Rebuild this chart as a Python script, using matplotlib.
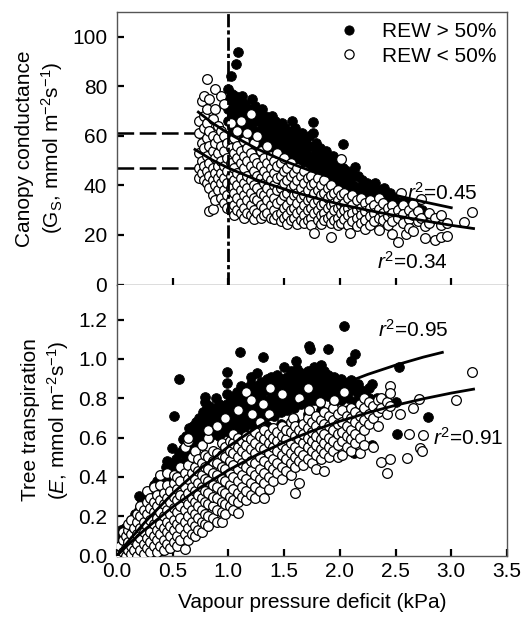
import matplotlib
matplotlib.use('Agg')
import matplotlib.pyplot as plt
from matplotlib.lines import Line2D

plt.rcParams['font.family'] = ['Liberation Sans', 'DejaVu Sans']
plt.rcParams['mathtext.fontset'] = 'custom'
plt.rcParams['mathtext.rm'] = 'Liberation Sans'
plt.rcParams['mathtext.it'] = 'Liberation Sans:italic'
plt.rcParams['lines.scale_dashes'] = False

# ---- canopy conductance (top panel), columns of (VPD, [Gs values]) ----
gs_wet = [
    (1.09, [94]), (1.07, [89]), (1.02, [84]),
    (1.00, [79, 75, 71, 66, 60, 56]),
    (1.03, [77, 73, 68, 63, 58]),
    (1.06, [76, 70, 65, 61, 55]),
    (1.09, [74, 71, 67, 62, 57, 53]),
    (1.12, [76, 69, 64, 59, 55]),
    (1.15, [73, 70, 66, 61, 56, 52]),
    (1.18, [71, 67, 63, 58, 54]),
    (1.21, [75, 69, 65, 60, 55, 51]),
    (1.24, [72, 67, 62, 57, 53]),
    (1.27, [70, 66, 61, 56, 52, 49]),
    (1.30, [71, 67, 63, 58, 54, 50]),
    (1.33, [68, 64, 60, 55, 51]),
    (1.36, [67, 62, 58, 53, 49]),
    (1.39, [68, 64, 60, 56, 51, 47]),
    (1.42, [66, 62, 58, 54, 50]),
    (1.45, [64, 60, 56, 52, 48]),
    (1.48, [65, 61, 57, 53, 49, 46]),
    (1.51, [63, 59, 55, 51, 47]),
    (1.54, [61, 58, 54, 50, 46]),
    (1.57, [66, 62, 57, 53, 49, 45]),
    (1.60, [63, 59, 55, 51, 47]),
    (1.63, [60, 56, 52, 48, 44]),
    (1.66, [61, 57, 53, 49, 45]),
    (1.69, [58, 55, 51, 47, 43]),
    (1.72, [60, 56, 52, 48, 44]),
    (1.76, [65.5, 61, 55.5, 50, 46, 42]),
    (1.79, [57, 53, 49, 45, 41]),
    (1.82, [55, 51, 47, 43, 40]),
    (1.85, [53, 50, 46, 42, 39]),
    (1.88, [54, 49, 45, 41, 38]),
    (1.91, [51, 48, 44, 40, 37]),
    (1.94, [52, 47, 43, 39, 36]),
    (1.97, [49, 46, 42, 38, 35, 28.7]),
    (2.00, [48, 44, 40, 37, 34]),
    (2.03, [56.7, 47, 43, 39, 36]),
    (2.06, [46, 42, 38, 35]),
    (2.09, [45, 41, 37, 34]),
    (2.12, [44, 40, 36, 33]),
    (2.14, [47.5]),
    (2.16, [44, 39, 36, 33]),
    (2.20, [42, 38, 35]),
    (2.24, [41, 37, 34, 31]),
    (2.28, [39, 36, 33]),
    (2.32, [41, 37, 34, 31]),
    (2.36, [38, 35, 32]),
    (2.40, [39, 36, 33]),
    (2.45, [37, 34, 31]),
    (2.50, [35, 32]),
    (2.56, [27, 34]),
    (2.62, [33, 30]),
    (2.68, [32]),
    (2.74, [30]),
    (2.79, [26.8]),
    (2.91, [25.6]),
]

gs_dry = [
    (0.74, [66, 61, 53, 47, 43]),
    (0.76, [74, 57, 50, 45]),
    (0.78, [76, 68, 63, 55, 48, 42]),
    (0.81, [83, 71, 65, 59, 52, 46, 41]),
    (0.83, [75, 62, 56, 49, 44, 39, 29.6]),
    (0.86, [67, 60, 54, 47, 42, 36, 30.5]),
    (0.88, [79, 71, 57, 51, 45, 40, 34]),
    (0.91, [64, 59, 53, 48, 43, 38]),
    (0.93, [76, 62, 56, 50, 45, 41, 35]),
    (0.96, [73, 60, 54, 48, 43, 38, 33]),
    (0.99, [57, 51, 46, 41, 36, 31]),
    (1.02, [65, 55, 49, 44, 39, 34, 30]),
    (1.05, [59, 53, 47, 42, 37, 32, 28]),
    (1.08, [62, 56, 51, 45, 40, 35, 30]),
    (1.11, [66, 54, 49, 43, 38, 33, 29]),
    (1.14, [58, 52, 47, 41, 36, 31, 27]),
    (1.17, [61, 55, 50, 44, 39, 34, 29]),
    (1.20, [69, 53, 48, 42, 37, 32, 28]),
    (1.23, [57, 51, 46, 40, 35, 30, 26.5]),
    (1.26, [60, 49, 44, 39, 34, 29]),
    (1.29, [54, 48, 43, 37, 32, 27]),
    (1.32, [51, 46, 41, 36, 31, 28]),
    (1.35, [56, 49, 44, 39, 34, 29]),
    (1.38, [52, 47, 42, 37, 32, 27]),
    (1.41, [50, 45, 40, 35, 30, 26.5]),
    (1.44, [53, 48, 43, 38, 33, 28]),
    (1.47, [49, 44, 39, 34, 29, 25.5]),
    (1.50, [51, 46, 41, 36, 31, 27]),
    (1.53, [47, 42, 37, 32, 28, 24.5]),
    (1.56, [49, 44, 39, 34, 30, 26]),
    (1.59, [45, 40, 36, 31, 27]),
    (1.62, [47, 42, 37, 33, 29, 24.5]),
    (1.65, [44, 39, 35, 30, 26]),
    (1.68, [46, 41, 36, 32, 28, 25]),
    (1.71, [43, 38, 34, 30, 26]),
    (1.74, [44, 40, 35, 31, 27, 24]),
    (1.77, [41, 37, 33, 29, 20.6]),
    (1.80, [43, 38, 34, 30, 26]),
    (1.83, [40, 36, 32, 28, 24.5]),
    (1.86, [42, 37, 33, 29, 26]),
    (1.89, [39, 35, 31, 27]),
    (1.92, [40, 36, 32, 28, 25, 19.1]),
    (1.95, [37, 33, 30, 26]),
    (1.98, [38, 34, 31, 27, 24]),
    (2.01, [50.5, 36, 32, 29, 25]),
    (2.04, [37, 33, 30, 26.5]),
    (2.07, [35, 31, 28, 24]),
    (2.09, [20.6]),
    (2.11, [36, 32, 29, 25.5]),
    (2.15, [34, 30, 27, 23.5]),
    (2.19, [35, 31, 28, 25]),
    (2.23, [33, 29.5, 26, 22.5]),
    (2.27, [34, 31, 27.5, 24]),
    (2.31, [32, 29, 25.5]),
    (2.35, [35, 30.5, 27, 22.2]),
    (2.39, [33, 29, 26]),
    (2.43, [31, 27.5, 24]),
    (2.47, [32, 29, 25.5, 20.5]),
    (2.52, [30, 27, 17.2]),
    (2.55, [36.8]),
    (2.57, [32, 28.5, 25]),
    (2.59, [20.3]),
    (2.62, [30, 26.5, 23]),
    (2.66, [32.5, 28, 21.5]),
    (2.70, [29.5, 25.5]),
    (2.73, [34.5, 27]),
    (2.76, [18.8, 23.5]),
    (2.80, [29, 25]),
    (2.85, [27, 18]),
    (2.91, [28, 24, 19.3]),
    (2.96, [19.7, 25]),
    (3.11, [25.1]),
    (3.19, [29.2]),
]

# fitted curves, read at several VPD values
fit_wet_vpd = [0.73, 0.85, 1.0, 1.25, 1.5, 1.75, 2.0, 2.25, 2.5, 2.75, 3.0]
fit_wet_gs = [69.6, 65.4, 61.0, 54.9, 49.9, 45.7, 42.1, 38.9, 36.0, 33.4, 31.0]
fit_dry_vpd = [0.70, 0.85, 1.0, 1.25, 1.5, 1.75, 2.0, 2.25, 2.5, 2.75, 3.0, 3.2]
fit_dry_gs = [54.5, 50.4, 47.0, 42.3, 38.5, 35.3, 32.4, 30.0, 27.8, 25.8, 23.9, 22.6]
gs_at_1kpa = [61, 47]

# ---- tree transpiration (bottom panel) ----
e_wet = [
    (0.02, [0.03, 0.08]), (0.04, [0.10, 0.13]), (0.07, [0.05, 0.11, 0.14]),
    (0.10, [0.08, 0.13]), (0.13, [0.14, 0.18]), (0.16, [0.16, 0.21]),
    (0.20, [0.302, 0.18, 0.23]), (0.22, [0.29]), (0.24, [0.21, 0.27]),
    (0.27, [0.24, 0.30]), (0.30, [0.27, 0.33]), (0.33, [0.30, 0.36]),
    (0.36, [0.33, 0.38]), (0.38, [0.0]), (0.40, [0.36, 0.41]),
    (0.42, [0.05]), (0.44, [0.39, 0.45]), (0.45, [0.48]),
    (0.47, [0.42, 0.47]), (0.49, [0.545, 0.30]), (0.50, [0.39, 0.46]),
    (0.51, [0.709]), (0.53, [0.42, 0.49, 0.12]), (0.56, [0.896, 0.45, 0.52]),
    (0.59, [0.47, 0.54, 0.59]), (0.62, [0.50, 0.56, 0.61]),
    (0.65, [0.65, 0.52, 0.58]), (0.68, [0.55, 0.61, 0.66]),
    (0.71, [0.57, 0.63, 0.68]), (0.74, [0.59, 0.65, 0.70]),
    (0.77, [0.61, 0.67, 0.73]), (0.79, [0.807, 0.78]),
    (0.80, [0.63, 0.69, 0.74]), (0.83, [0.60, 0.65, 0.71, 0.76]),
    (0.86, [0.62, 0.68, 0.73]), (0.89, [0.64, 0.70, 0.75, 0.80]),
    (0.92, [0.61, 0.66, 0.72, 0.77]), (0.95, [0.63, 0.69, 0.74]),
    (0.99, [0.935, 0.879, 0.65, 0.71, 0.77, 0.82]),
    (1.02, [0.57, 0.62, 0.68, 0.73, 0.79]), (1.05, [0.64, 0.70, 0.75, 0.81]),
    (1.08, [0.66, 0.72, 0.77, 0.83]), (1.10, [1.036]),
    (1.11, [0.58, 0.63, 0.69, 0.74, 0.80, 0.86]),
    (1.14, [0.65, 0.71, 0.77, 0.82]),
    (1.17, [0.67, 0.73, 0.79, 0.85]), (1.20, [0.69, 0.75, 0.81, 0.87, 0.91]),
    (1.23, [0.61, 0.66, 0.72, 0.78, 0.84]),
    (1.26, [0.68, 0.74, 0.80, 0.86, 0.93]),
    (1.29, [0.70, 0.76, 0.82, 0.88]), (1.31, [1.011]),
    (1.32, [0.67, 0.73, 0.79, 0.85]),
    (1.35, [0.66, 0.72, 0.78, 0.84, 0.90]),
    (1.38, [0.74, 0.80, 0.86, 0.91]), (1.41, [0.71, 0.77, 0.83, 0.89]),
    (1.44, [0.75, 0.81, 0.87, 0.92]),
    (1.47, [0.67, 0.73, 0.79, 0.85, 0.90]),
    (1.50, [0.96, 0.76, 0.82, 0.88]), (1.53, [0.74, 0.80, 0.86, 0.91]),
    (1.56, [0.78, 0.84, 0.89, 0.94]),
    (1.59, [0.69, 0.75, 0.81, 0.87, 0.92]),
    (1.61, [0.99]), (1.62, [0.79, 0.85, 0.90, 0.95]),
    (1.65, [0.77, 0.83, 0.88, 0.93]), (1.68, [0.80, 0.86, 0.91]),
    (1.71, [0.72, 0.78, 0.84, 0.89, 0.94]), (1.72, [1.065]), (1.73, [1.05]),
    (1.74, [0.81, 0.87, 0.92]), (1.77, [0.79, 0.85, 0.90, 0.96]),
    (1.80, [0.82, 0.88, 0.93]), (1.83, [0.74, 0.80, 0.86, 0.91, 0.97]),
    (1.86, [0.83, 0.89, 0.94]), (1.89, [1.048, 0.81, 0.87, 0.92]),
    (1.92, [0.84, 0.90]), (1.95, [0.72, 0.78, 0.85, 0.91]),
    (1.98, [0.82, 0.88]),
    (2.01, [0.79, 0.85, 0.90]), (2.04, [1.167, 0.83, 0.88]),
    (2.07, [0.64, 0.74, 0.80, 0.86]), (2.10, [0.99, 0.84, 0.89]),
    (2.13, [0.52, 0.78, 0.86]), (2.14, [1.024]), (2.16, [0.65, 0.82, 0.87]),
    (2.19, [0.73, 0.79, 0.84]), (2.22, [0.76, 0.82]), (2.26, [0.80, 0.85]),
    (2.29, [0.871, 0.56, 0.77]), (2.33, [0.80]), (2.37, [0.76]),
    (2.41, [0.78]), (2.50, [0.78]), (2.51, [0.618]), (2.53, [0.96]),
    (2.79, [0.706]),
]

e_dry = [
    (0.00, [0.0]), (0.03, [0.01, 0.05]), (0.05, [0.02, 0.08, 0.12]),
    (0.08, [0.0, 0.04, 0.10]), (0.10, [0.03, 0.07, 0.13, 0.16]),
    (0.13, [0.01, 0.05, 0.11, 0.18]), (0.15, [0.03, 0.08, 0.14]),
    (0.18, [0.0, 0.06, 0.11, 0.17, 0.21]),
    (0.21, [0.03, 0.09, 0.14, 0.20, 0.25]),
    (0.24, [0.01, 0.06, 0.12, 0.17, 0.23]),
    (0.27, [0.04, 0.09, 0.15, 0.21, 0.27, 0.33]),
    (0.30, [0.02, 0.07, 0.12, 0.18, 0.24, 0.29]),
    (0.33, [0.05, 0.10, 0.16, 0.22, 0.27, 0.35]),
    (0.36, [0.02, 0.08, 0.13, 0.19, 0.25, 0.31]),
    (0.39, [0.05, 0.11, 0.16, 0.22, 0.28, 0.36, 0.41]),
    (0.42, [0.03, 0.08, 0.14, 0.20, 0.26, 0.32]),
    (0.45, [0.06, 0.12, 0.17, 0.23, 0.29, 0.36, 0.42]),
    (0.48, [0.04, 0.10, 0.15, 0.21, 0.27, 0.33]),
    (0.51, [0.07, 0.13, 0.18, 0.24, 0.30, 0.37, 0.41]),
    (0.54, [0.05, 0.10, 0.16, 0.22, 0.28, 0.34, 0.40]),
    (0.57, [0.08, 0.14, 0.19, 0.25, 0.31, 0.38, 0.45]),
    (0.61, [0.035, 0.11, 0.17, 0.23, 0.29, 0.35, 0.42, 0.55]),
    (0.64, [0.08, 0.14, 0.20, 0.26, 0.32, 0.39, 0.46, 0.58, 0.60]),
    (0.67, [0.11, 0.17, 0.23, 0.29, 0.35, 0.42, 0.50]),
    (0.70, [0.10, 0.15, 0.21, 0.27, 0.33, 0.39, 0.45, 0.53]),
    (0.73, [0.13, 0.19, 0.25, 0.31, 0.37, 0.43, 0.49]),
    (0.76, [0.12, 0.17, 0.23, 0.29, 0.35, 0.41, 0.47, 0.56]),
    (0.79, [0.16, 0.21, 0.27, 0.33, 0.39, 0.45, 0.51]),
    (0.82, [0.15, 0.20, 0.26, 0.32, 0.38, 0.44, 0.50, 0.60, 0.64]),
    (0.86, [0.19, 0.25, 0.30, 0.36, 0.42, 0.48, 0.53]),
    (0.90, [0.17, 0.23, 0.29, 0.35, 0.41, 0.47, 0.52, 0.66]),
    (0.94, [0.172, 0.22, 0.27, 0.33, 0.39, 0.45, 0.51, 0.57]),
    (0.97, [0.21, 0.26, 0.32, 0.38, 0.44, 0.50, 0.55, 0.70]),
    (1.01, [0.25, 0.30, 0.36, 0.42, 0.48, 0.53, 0.58]),
    (1.04, [0.23, 0.28, 0.34, 0.40, 0.46, 0.52, 0.57, 0.62]),
    (1.09, [0.215, 0.27, 0.32, 0.38, 0.44, 0.50, 0.55, 0.60, 0.74]),
    (1.12, [0.30, 0.35, 0.41, 0.47, 0.53, 0.58]),
    (1.16, [0.28, 0.33, 0.39, 0.45, 0.51, 0.56, 0.61, 0.83]),
    (1.20, [0.31, 0.37, 0.43, 0.48, 0.54, 0.59, 0.79]),
    (1.21, [0.72]),
    (1.24, [0.29, 0.35, 0.41, 0.47, 0.52, 0.57, 0.63]),
    (1.28, [0.33, 0.39, 0.44, 0.50, 0.55, 0.61, 0.68]),
    (1.31, [0.77]),
    (1.32, [0.29, 0.37, 0.42, 0.48, 0.54, 0.59, 0.64]),
    (1.36, [0.34, 0.40, 0.46, 0.52, 0.57, 0.62, 0.72]),
    (1.37, [0.85]),
    (1.40, [0.38, 0.44, 0.49, 0.55, 0.60, 0.65]),
    (1.44, [0.42, 0.47, 0.53, 0.58, 0.63]),
    (1.48, [0.39, 0.45, 0.51, 0.56, 0.61, 0.66, 0.82]),
    (1.52, [0.43, 0.49, 0.54, 0.59, 0.64]),
    (1.56, [0.41, 0.47, 0.52, 0.57, 0.63, 0.68]),
    (1.58, [0.70]),
    (1.60, [0.316, 0.45, 0.50, 0.55, 0.61, 0.66]),
    (1.63, [0.37, 0.48, 0.53, 0.59, 0.64, 0.80]),
    (1.67, [0.46, 0.51, 0.57, 0.62, 0.67]),
    (1.71, [0.49, 0.55, 0.60, 0.65, 0.70, 0.85]),
    (1.72, [0.74]),
    (1.75, [0.47, 0.53, 0.58, 0.63, 0.68]),
    (1.79, [0.44, 0.51, 0.56, 0.61, 0.66, 0.71]),
    (1.82, [0.78]),
    (1.83, [0.49, 0.54, 0.59, 0.64, 0.69]),
    (1.86, [0.43, 0.52, 0.57, 0.62, 0.67, 0.73]),
    (1.90, [0.50, 0.55, 0.60, 0.66, 0.71]),
    (1.94, [0.53, 0.58, 0.64, 0.69, 0.75]),
    (1.95, [0.79]),
    (1.98, [0.50, 0.56, 0.62, 0.67, 0.72]),
    (2.02, [0.51, 0.58, 0.63, 0.68, 0.74]),
    (2.04, [0.83]),
    (2.06, [0.55, 0.61, 0.66, 0.71]),
    (2.10, [0.53, 0.59, 0.64, 0.70, 0.75]),
    (2.14, [0.57, 0.62, 0.68, 0.73]),
    (2.18, [0.52, 0.60, 0.66, 0.71, 0.77]),
    (2.22, [0.56, 0.64, 0.69, 0.75, 0.80]),
    (2.26, [0.67, 0.72, 0.78]),
    (2.30, [0.55, 0.70, 0.76]),
    (2.34, [0.66, 0.73, 0.79]),
    (2.37, [0.477, 0.75, 0.80]),
    (2.42, [0.418, 0.72, 0.78]),
    (2.45, [0.49, 0.864, 0.828, 0.76]),
    (2.54, [0.718]), (2.60, [0.494]), (2.62, [0.618]), (2.66, [0.75]),
    (2.71, [0.795]), (2.72, [0.545]), (2.74, [0.53]), (2.75, [0.612]),
    (3.04, [0.79]), (3.19, [0.934]),
]

fit_e_wet_vpd = [0, 0.1, 0.25, 0.5, 0.75, 1.0, 1.25, 1.5, 1.75, 2.0, 2.25, 2.5, 2.75, 2.92]
fit_e_wet = [0, 0.071, 0.169, 0.316, 0.443, 0.554, 0.650, 0.733, 0.805, 0.867, 0.921, 0.968, 1.009, 1.033]
fit_e_dry_vpd = [0, 0.1, 0.25, 0.5, 0.75, 1.0, 1.25, 1.5, 1.75, 2.0, 2.25, 2.5, 2.75, 3.0, 3.2]
fit_e_dry = [0, 0.055, 0.132, 0.247, 0.347, 0.434, 0.510, 0.576, 0.633, 0.683, 0.726, 0.764, 0.797, 0.826, 0.846]


def flatten(cols):
    xs, ys = [], []
    for x, vals in cols:
        for v in vals:
            xs.append(x)
            ys.append(v)
    return xs, ys


fig = plt.figure(figsize=(5.22, 6.18), dpi=100)
ax1 = fig.add_axes([0.2241, 0.5396, 0.7471, 0.4410])
ax2 = fig.add_axes([0.2241, 0.1011, 0.7471, 0.4385])

ms = 7.0
filled = dict(ls='none', marker='o', ms=ms, mfc='k', mec='k', mew=0.6)
hollow = dict(ls='none', marker='o', ms=ms, mfc='white', mec='k', mew=0.9)

# top panel
x, y = flatten(gs_wet)
ax1.plot(x, y, zorder=2, **filled)
x, y = flatten(gs_dry)
ax1.plot(x, y, zorder=3, **hollow)
ax1.plot(fit_wet_vpd, fit_wet_gs, color='k', lw=2.0, zorder=4)
ax1.plot(fit_dry_vpd, fit_dry_gs, color='k', lw=2.0, zorder=4)
for g in gs_at_1kpa:
    ax1.plot([0, 1.0], [g, g], color='k', lw=1.8, dashes=(12, 4), zorder=1)
ax1.axvline(1.0, color='k', lw=2.0, dashes=(9.5, 2.2, 3, 2.2), zorder=5)

ax1.set_xlim(0, 3.5)
ax1.set_ylim(0, 110)
ax1.set_yticks([0, 20, 40, 60, 80, 100])
ax1.set_xticks([0.5, 1.0, 1.5, 2.0, 2.5, 3.0])
ax1.tick_params(labelbottom=False)
ax1.set_ylabel('Canopy conductance\n(G$_\\mathrm{S}$, mmol m$^{-2}$s$^{-1}$)',
               fontsize=15, labelpad=5, linespacing=1.25)
ax1.text(2.6, 37, '$r^2$=0.45', fontsize=15, va='center')
ax1.text(2.33, 9, '$r^2$=0.34', fontsize=15, va='center')

handles = [Line2D([], [], **filled), Line2D([], [], **hollow)]
ax1.legend(handles, ['REW > 50%', 'REW < 50%'], loc='upper right',
           frameon=False, fontsize=15, handlelength=1.4, handletextpad=0.9,
           labelspacing=0.25, borderaxespad=0.1, markerscale=0.95)

# bottom panel
x, y = flatten(e_wet)
ax2.plot(x, y, zorder=2, **filled)
x, y = flatten(e_dry)
ax2.plot(x, y, zorder=3, **hollow)
ax2.plot(fit_e_wet_vpd, fit_e_wet, color='k', lw=2.0, zorder=4)
ax2.plot(fit_e_dry_vpd, fit_e_dry, color='k', lw=2.0, zorder=4)

ax2.set_xlim(0, 3.5)
ax2.set_ylim(0, 1.378)
ax2.set_yticks([0, 0.2, 0.4, 0.6, 0.8, 1.0, 1.2])
ax2.set_yticklabels(['0.0', '0.2', '0.4', '0.6', '0.8', '1.0', '1.2'])
ax2.set_xticks([0, 0.5, 1.0, 1.5, 2.0, 2.5, 3.0, 3.5])
ax2.set_xticklabels(['0.0', '0.5', '1.0', '1.5', '2.0', '2.5', '3.0', '3.5'])
ax2.set_xlabel('Vapour pressure deficit (kPa)', fontsize=15, labelpad=8)
ax2.set_ylabel('Tree transpiration\n($E$, mmol m$^{-2}$s$^{-1}$)',
               fontsize=15, labelpad=5, linespacing=1.25)
ax2.text(2.34, 1.15, '$r^2$=0.95', fontsize=15, va='center')
ax2.text(2.84, 0.60, '$r^2$=0.91', fontsize=15, va='center')

for ax in (ax1, ax2):
    for s in ax.spines.values():
        s.set_color('#555555')
        s.set_linewidth(1.0)
    ax.tick_params(direction='in', length=5, width=1.6, color='k',
                   labelsize=15, pad=7)
ax2.tick_params(axis='x', pad=5)
ax2.spines['top'].set_visible(False)

fig.savefig('out.png', dpi=100)
